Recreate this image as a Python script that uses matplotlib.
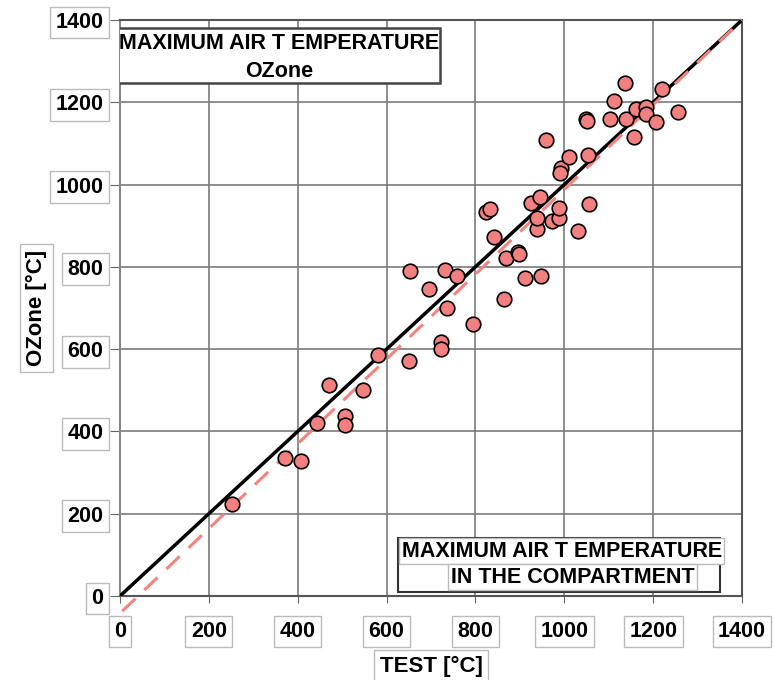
import matplotlib
matplotlib.use("Agg")
import matplotlib.pyplot as plt
from matplotlib.patches import Rectangle
import numpy as np

plt.rcParams['font.family'] = ['Liberation Sans', 'DejaVu Sans']
plt.rcParams['font.weight'] = 'bold'

# Measured data (TEST vs OZone), °C
test_vals = [252, 371, 407, 443, 470, 506, 506, 547, 580, 650, 652, 695, 731, 735,
             758, 722, 722, 794, 864, 911, 947, 868, 895, 897, 841, 823, 832, 938,
             938, 972, 987, 987, 1030, 1055, 924, 945, 992, 990, 1010, 1053, 958,
             1048, 1050, 1102, 1140, 1161, 1185, 1185, 1206, 1257, 1158, 1111, 1136, 1221]
ozone_vals = [224, 335, 328, 420, 513, 438, 416, 501, 586, 571, 790, 746, 792, 700,
              778, 617, 600, 661, 722, 773, 778, 822, 836, 831, 873, 933, 941, 892,
              919, 912, 919, 943, 887, 953, 955, 970, 1040, 1028, 1067, 1072, 1108,
              1160, 1155, 1159, 1159, 1184, 1189, 1172, 1152, 1176, 1116, 1203, 1247, 1232]

# Lines: perfect agreement and regression
ident_x = [0, 1400]
fit_slope = 1.03
fit_intercept = -42
fit_x = [5, 1400]

ticks = [0, 200, 400, 600, 800, 1000, 1200, 1400]
tick_labels = [str(t) for t in ticks]

fig = plt.figure(figsize=(7.75, 6.8), dpi=100)
ax = fig.add_axes([120/775, 84/680, 622/775, 576/680])
ax.set_xlim(0, 1400)
ax.set_ylim(0, 1400)

ax.set_xticks(ticks)
ax.set_yticks(ticks)
ax.set_xticklabels(tick_labels)
ax.set_yticklabels(tick_labels)
ax.grid(True, color='#7a7a7a', linewidth=1.2)
ax.set_axisbelow(True)
for s in ax.spines.values():
    s.set_color('#555555')
    s.set_linewidth(1.5)
ax.spines['left'].set_color('#888888')

box = dict(boxstyle='square,pad=0.25', facecolor='white', edgecolor='#bbbbbb', linewidth=1)
ax.tick_params(axis='x', direction='out', length=5, color='#666666', pad=13, labelsize=15.5)
ax.tick_params(axis='y', direction='out', length=7, color='#666666', pad=5, labelsize=15.5)
for lab in ax.get_xticklabels() + ax.get_yticklabels():
    lab.set_bbox(box)
    lab.set_fontweight('bold')

ax.set_xlabel('TEST [°C]', fontsize=16, fontweight='bold', labelpad=10, bbox=box)
ax.set_ylabel('OZone [°C]', fontsize=16, fontweight='bold', labelpad=6, bbox=box)

ax.plot(ident_x, ident_x, color='black', linewidth=2.5, zorder=3)
fx = np.array(fit_x, dtype=float)
ax.plot(fx, fit_slope * fx + fit_intercept, color='#F4837D', linewidth=2.2,
        dashes=(6, 4), zorder=3, clip_on=False)

ax.scatter(test_vals, ozone_vals, s=110, facecolor='#F28080', edgecolor='black',
           linewidth=1.2, zorder=4)

# Top-left title box
ax.add_patch(Rectangle((-4, 1247), 724, 133, facecolor='white', edgecolor='#444444',
                       linewidth=1.8, zorder=5))
ax.text(358, 1344, 'MAXIMUM AIR T EMPERATURE', ha='center', va='center',
        fontsize=15.5, fontweight='bold', zorder=6)
ax.text(358, 1276, 'OZone', ha='center', va='center', fontsize=15.5,
        fontweight='bold', zorder=6)

# Bottom-right box
ax.add_patch(Rectangle((625, 10), 725, 131, facecolor='white', edgecolor='#333333',
                       linewidth=1.5, zorder=5))
lbox = dict(boxstyle='square,pad=0.12', facecolor='white', edgecolor='#bbbbbb', linewidth=1)
ax.text(994, 109, 'MAXIMUM AIR T EMPERATURE', ha='center', va='center',
        fontsize=15.5, fontweight='bold', zorder=6, bbox=lbox)
ax.text(1019, 46, 'IN THE COMPARTMENT', ha='center', va='center',
        fontsize=15.5, fontweight='bold', zorder=6, bbox=lbox)

fig.savefig('out.png', dpi=100)
